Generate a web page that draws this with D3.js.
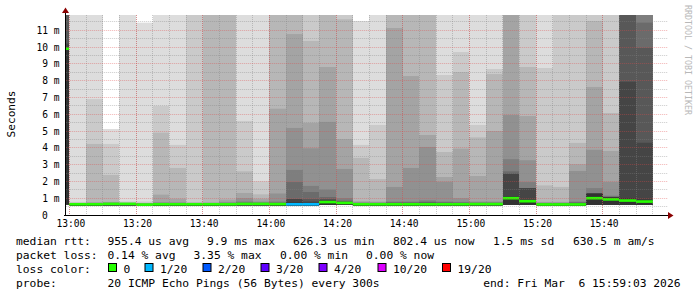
<!DOCTYPE html>
<html>
<head>
<meta charset="utf-8">
<script src="https://cdn.jsdelivr.net/npm/d3@7"></script>
<style>
  body { margin: 0; background: #fff; }
  svg { display: block; font-family: "DejaVu Sans Mono", monospace; }
  text { white-space: pre; }
</style>
</head>
<body>
<svg id="chart" width="697" height="297"></svg>
<script>
// 5 minute steps, start of each step
var colStart = ["12:55","13:00","13:05","13:10","13:15","13:20","13:25","13:30","13:35","13:40","13:45","13:50",
  "13:55","14:00","14:05","14:10","14:15","14:20","14:25","14:30","14:35","14:40","14:45","14:50",
  "14:55","15:00","15:05","15:10","15:15","15:20","15:25","15:30","15:35","15:40","15:45","15:50"];

// upper edge (ms) of the 10 nested smoke bands, outermost first
var smokeHi = [
  [13,13,13,13,13,13,13,13,10.2,9.95],
  [13,0.78,0.72,0.70,0.69,0.68,0.67,0.66,0.66,0.65],
  [13,6.9,4.23,0.76,0.72,0.70,0.68,0.67,0.66,0.65],
  [5.12,4.23,2.38,0.78,0.74,0.72,0.70,0.69,0.68,0.67],
  [13,0.8,0.75,0.72,0.70,0.69,0.68,0.67,0.67,0.66],
  [11.45,0.8,0.72,0.70,0.68,0.67,0.66,0.65,0.64,0.63],
  [13,6.49,4.9,1.21,0.76,0.72,0.70,0.68,0.67,0.66],
  [13,4.17,2.8,0.97,0.75,0.72,0.70,0.68,0.67,0.66],
  [13,13,0.76,0.72,0.70,0.69,0.68,0.67,0.66,0.65],
  [13,13,13,0.74,0.72,0.70,0.68,0.67,0.66,0.65],
  [13,13,13,0.92,0.78,0.72,0.70,0.68,0.67,0.66],
  [13,5.6,2.6,1.31,1.0,0.8,0.74,0.71,0.69,0.68],
  [13,2.0,1.23,0.97,0.8,0.75,0.72,0.70,0.69,0.68],
  [13,13,13,6.33,1.28,0.8,0.74,0.70,0.68,0.66],
  [13,13,13,10.77,5.18,2.68,1.96,0.95,0.95,0.75],
  [13,13,10.36,5.48,3.97,1.73,1.37,0.95,0.8,0.72],
  [13,13,13,8.81,5.54,1.51,1.07,0.92,0.92,0.82],
  [13,13,11.65,4.52,2.74,1.0,0.85,0.8,0.78,0.76],
  [11.55,4.17,3.4,0.82,0.76,0.72,0.70,0.69,0.68,0.67],
  [13,5.36,2.14,0.8,0.75,0.72,0.70,0.69,0.68,0.67],
  [13,13,13,11.13,1.67,0.8,0.75,0.72,0.70,0.68],
  [13,13,13,8.27,2.8,0.8,0.75,0.72,0.70,0.68],
  [13,13,13,4.76,4.05,0.87,0.78,0.74,0.71,0.68],
  [13,8.33,3.75,2.26,1.98,0.8,0.75,0.72,0.70,0.68],
  [13,9.7,8.51,3.95,1.0,0.78,0.74,0.71,0.69,0.68],
  [13,5.36,4.62,2.32,0.8,0.75,0.72,0.70,0.69,0.68],
  [13,8.69,8.39,5.0,0.8,0.75,0.72,0.70,0.69,0.68],
  [13,13,13,13,5.95,3.32,2.6,2.45,2.45,1.1],
  [13,13,8.81,5.89,3.26,1.96,1.6,1.6,1.6,0.9],
  [13,8.75,1.76,0.78,0.74,0.71,0.69,0.68,0.67,0.66],
  [13,13,1.67,0.78,0.74,0.71,0.69,0.68,0.67,0.66],
  [13,13,4.29,3.02,2.62,0.8,0.75,0.72,0.70,0.68],
  [13,13,11.55,7.62,3.88,1.6,1.28,1.28,1.28,1.28],
  [13,13,6.07,3.81,1.97,1.15,1.1,1.05,1.05,1.05],
  [13,13,13,13,13,13,13,13,7.93,1.0],
  [13,13,13,13,13,13,11.45,9.95,4.3,0.92]
];
// lowest ping (ms)
var pingMin = [0.62,0.56,0.56,0.57,0.57,0.56,0.56,0.56,0.56,0.56,0.56,0.57,
  0.57,0.56,0.56,0.56,0.6,0.6,0.56,0.56,0.56,0.56,0.56,0.56,
  0.56,0.57,0.57,0.6,0.6,0.56,0.56,0.56,0.6,0.6,0.6,0.6];
var medianMs = [9.9,0.64,0.64,0.66,0.66,0.62,0.64,0.64,0.64,0.64,0.64,0.66,
  0.66,0.65,0.64,0.64,0.77,0.72,0.64,0.64,0.64,0.64,0.64,0.64,
  0.64,0.65,0.65,1.0,0.82,0.63,0.63,0.63,1.0,0.93,0.86,0.80];
// index into lossColors
var lossIdx = [0,0,0,0,0,0,0,0,0,0,0,0, 0,0,1,1,0,0,0,0,0,0,0,0, 0,0,0,0,0,0,0,0,0,0,0,0];

var lossColors = ["#26ff00","#00b8ff","#0059ff","#5e00ff","#7e00ff","#dd00ff","#ff0000"];
var lossLabels = ["0","1/20","2/20","3/20","4/20","10/20","19/20"];
var yTicks = [0,1,2,3,4,5,6,7,8,9,10,11];

var statsRtt = ["955.4 us avg","9.9 ms max","626.3 us min","802.4 us now","1.5 ms sd","630.5 m am/s"];
var statsLoss = ["0.14 % avg","3.35 % max","0.00 % min","0.00 % now"];
var probeText = "20 ICMP Echo Pings (56 Bytes) every 300s";
var endText = "end: Fri Mar  6 15:59:03 2026";

var parse = d3.timeParse("%H:%M:%S");
var svg = d3.select("#chart");

var pLeft = 66.2, pRight = 666.2, pTop = 15, pBottom = 215;
var x = d3.scaleTime()
  .domain([parse("12:59:03"), parse("15:59:03")])
  .range([pLeft, pRight]);
var y = d3.scaleLinear().domain([0, 11.905]).range([pBottom, pTop]);

svg.append("defs").append("clipPath").attr("id", "plot")
  .append("rect").attr("x", pLeft - 0.2).attr("y", pTop)
  .attr("width", pRight - pLeft).attr("height", pBottom - pTop);

var cols = colStart.map(function (s, i) {
  var t0 = parse(s + ":00");
  var t1 = d3.timeMinute.offset(t0, 5);
  return {
    x0: Math.max(Math.round(x(t0)), 66),
    x1: Math.round(x(t1)),
    hi: smokeHi[i], lo: pingMin[i], med: medianMs[i], loss: lossIdx[i]
  };
});

function shade(level) {
  var v = Math.round(190 / 10 * (10 - level)) + 50;
  return d3.rgb(v, v, v).toString();
}

var plot = svg.append("g").attr("clip-path", "url(#plot)");

// smoke
cols.forEach(function (c) {
  plot.append("g").selectAll("rect")
    .data(c.hi)
    .enter().append("rect")
    .attr("x", c.x0)
    .attr("width", c.x1 - c.x0)
    .attr("y", function (d) { return y(d); })
    .attr("height", function (d) { return Math.max(0, y(c.lo) - y(d)); })
    .attr("fill", function (d, i) { return shade(i + 1); });
});

// grid
var minor = x.ticks(d3.timeMinute.every(5));
var major = x.ticks(d3.timeMinute.every(20));
var grid = svg.append("g").attr("fill", "none").attr("stroke-width", 1)
  .attr("stroke-dasharray", "1,1");

grid.selectAll(".hmin").data(d3.range(0.5, 12, 1)).enter().append("line")
  .attr("x1", pLeft).attr("x2", pRight + 2)
  .attr("y1", function (d) { return Math.floor(y(d)) + 0.5; })
  .attr("y2", function (d) { return Math.floor(y(d)) + 0.5; })
  .attr("stroke", "rgba(130,130,130,0.42)");
grid.selectAll(".vmin").data(minor).enter().append("line")
  .attr("x1", function (d) { return Math.floor(x(d)) + 0.5; })
  .attr("x2", function (d) { return Math.floor(x(d)) + 0.5; })
  .attr("y1", pTop).attr("y2", pBottom)
  .attr("stroke", "rgba(130,130,130,0.42)");
grid.selectAll(".hmaj").data(yTicks.slice(1)).enter().append("line")
  .attr("x1", pLeft).attr("x2", pRight + 2)
  .attr("y1", function (d) { return Math.floor(y(d)) + 0.5; })
  .attr("y2", function (d) { return Math.floor(y(d)) + 0.5; })
  .attr("stroke", "rgba(225,75,75,0.42)");
grid.selectAll(".vmaj").data(major).enter().append("line")
  .attr("x1", function (d) { return Math.floor(x(d)) + 0.5; })
  .attr("x2", function (d) { return Math.floor(x(d)) + 0.5; })
  .attr("y1", pTop).attr("y2", pBottom)
  .attr("stroke", "rgba(225,75,75,0.48)");

// median, coloured by loss
plot.append("g").selectAll("rect")
  .data(cols)
  .enter().append("rect")
  .attr("x", function (c) { return c.x0; })
  .attr("width", function (c) { return c.x1 - c.x0; })
  .attr("y", function (c) { return y(c.med) - 1.3; })
  .attr("height", 2.6)
  .attr("fill", function (c) { return lossColors[c.loss]; });

// axes
svg.append("line").attr("x1", 64).attr("x2", 669).attr("y1", 215.5).attr("y2", 215.5)
  .attr("stroke", "#000");
svg.append("line").attr("x1", 65.5).attr("x2", 65.5).attr("y1", 216).attr("y2", 12)
  .attr("stroke", "#000");
svg.append("path").attr("d", "M65.5,7.5L69,13L62,13Z").attr("fill", "#8a0000");
svg.append("path").attr("d", "M673.5,215.5L668,212L668,219Z").attr("fill", "#8a0000");

var xAxis = svg.append("g").attr("transform", "translate(0," + pBottom + ")")
  .call(d3.axisBottom(x).tickValues(major)
    .tickFormat(d3.timeFormat("%H:%M")).tickSize(0).tickPadding(5.5));
xAxis.select(".domain").remove();
xAxis.selectAll("text").attr("font-family", "DejaVu Sans Mono")
  .attr("font-size", 9.6).attr("fill", "#000").attr("dx", 1);

var yAxis = svg.append("g").attr("transform", "translate(" + pLeft + ",0)")
  .call(d3.axisLeft(y).tickValues(yTicks)
    .tickFormat(function (d) { return d ? d + " m" : "0"; })
    .tickSize(0).tickPadding(6.7));
yAxis.select(".domain").remove();
yAxis.selectAll("text").attr("font-family", "DejaVu Sans Mono")
  .attr("font-size", 9.6).attr("fill", "#000")
  .attr("x", function (d) { return d ? -6.7 : -18.3; });

svg.append("text").attr("transform", "translate(14.5,114) rotate(-90)")
  .attr("text-anchor", "middle").attr("font-size", 11.2).text("Seconds");

svg.append("text").attr("transform", "translate(684.5,5) rotate(90)")
  .attr("font-size", 8.3).attr("fill", "#b8b8b8").text("RRDTOOL / TOBI OETIKER");

// legend
var fs = 11.3;
var lg = svg.append("g").attr("font-size", fs).attr("fill", "#000");
var rows = [244.8, 258.7, 272.6, 286.5];
lg.append("text").attr("x", 16).attr("y", rows[0]).text("median rtt:");
lg.append("text").attr("x", 16).attr("y", rows[1]).text("packet loss:");
lg.append("text").attr("x", 16).attr("y", rows[2]).text("loss color:");
lg.append("text").attr("x", 16).attr("y", rows[3]).text("probe:");

var rttX = [107.5, 207, 293, 393, 493, 573];
lg.selectAll(".rtt").data(statsRtt).enter().append("text")
  .attr("x", function (d, i) { return rttX[i]; }).attr("y", rows[0]).text(function (d) { return d; });
var lossX = [107.5, 193.5, 280, 366];
lg.selectAll(".loss").data(statsLoss).enter().append("text")
  .attr("x", function (d, i) { return lossX[i]; }).attr("y", rows[1]).text(function (d) { return d; });

var boxX = [109, 145.5, 203.5, 261.5, 319.5, 378.5, 443];
var item = lg.selectAll(".lc").data(lossLabels).enter().append("g");
item.append("rect")
  .attr("x", function (d, i) { return boxX[i] - 0.5; }).attr("y", 263.5)
  .attr("width", 8).attr("height", 8)
  .attr("fill", function (d, i) { return lossColors[i]; })
  .attr("stroke", "#000").attr("stroke-width", 1);
item.append("text")
  .attr("x", function (d, i) { return boxX[i] + 14.5; }).attr("y", rows[2])
  .text(function (d) { return d; });

lg.append("text").attr("x", 107.5).attr("y", rows[3]).text(probeText);
lg.append("text").attr("x", 680.5).attr("y", rows[3]).attr("text-anchor", "end")
  .attr("xml:space", "preserve").text(endText);
</script>
</body>
</html>
